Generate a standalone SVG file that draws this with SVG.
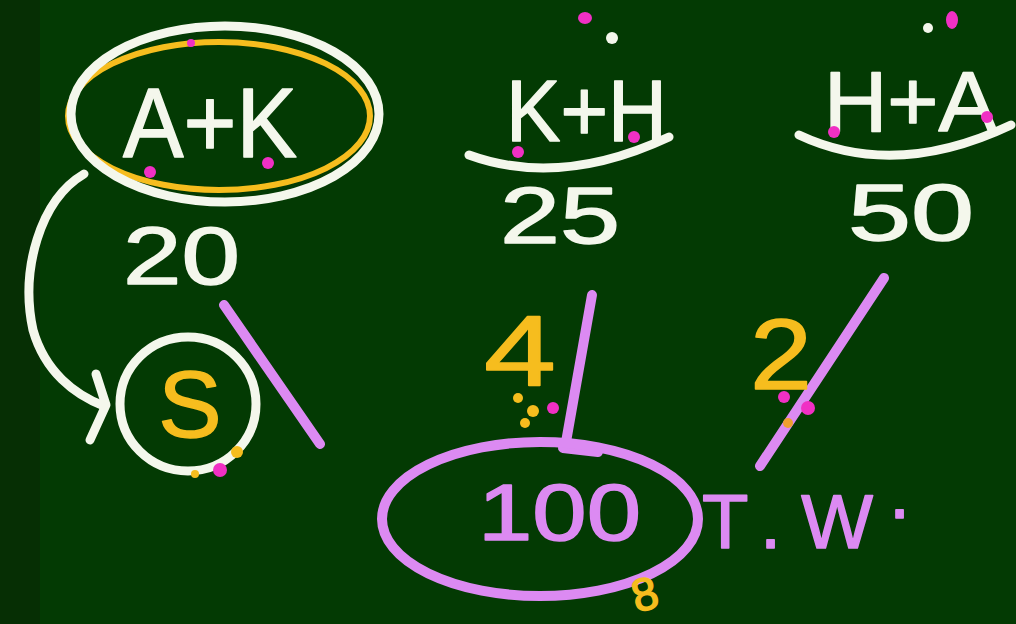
<svg xmlns="http://www.w3.org/2000/svg" width="1016" height="624" viewBox="0 0 1016 624">
<defs>
<style>
.t{font-family:"Liberation Sans",Arial,sans-serif;stroke-linejoin:round;stroke-width:1.5}
.wt{fill:#f4f7ec;stroke:#f4f7ec}
.yt{fill:#f6bd1e;stroke:#f6bd1e}
.pt{fill:#dc8af2;stroke:#dc8af2}
.ln{fill:none;stroke-linecap:round;stroke-linejoin:round}
.wl{stroke:#f4f7ec;stroke-width:9}
.pl{stroke:#dc8af2;stroke-width:10}
.pk{fill:#f030c4}
.yd{fill:#f6bd1e}
.wd{fill:#f4f7ec}
</style>
</defs>
<rect width="1016" height="624" fill="#033a03"/>
<rect width="40" height="624" fill="#062f04"/>

<g id="connectors">
  <path class="ln wl" d="M84,174 C40,200 20,270 33,330 C45,372 75,395 104,406"/>
  <polyline class="ln wl" points="96,374 106,405 90,440"/>
  <path class="ln pl" d="M224,305 L320,444"/>
  <path class="ln pl" d="M592,295 L566,442"/>
  <path class="ln pl" d="M563,448 L598,452" stroke-width="12"/>
  <path class="ln pl" d="M884,278 L760,466"/>
</g>

<g id="node-ak">
  <ellipse class="ln" cx="219" cy="116" rx="151" ry="74" stroke="#f6bd1e" stroke-width="6"/>
  <ellipse class="ln wl" cx="225" cy="114" rx="154" ry="88"/>
  <text class="t wt" x="123" y="157" font-size="98" textLength="174" lengthAdjust="spacingAndGlyphs">A+K</text>
  <text class="t wt" x="123" y="284" font-size="82" textLength="117" lengthAdjust="spacingAndGlyphs">20</text>
  <circle class="pk" cx="150" cy="172" r="6"/>
  <circle class="pk" cx="268" cy="163" r="6"/>
  <circle class="pk" cx="191" cy="43" r="4"/>
</g>

<g id="node-kh">
  <text class="t wt" x="506" y="141" font-size="88" textLength="161" lengthAdjust="spacingAndGlyphs">K+H</text>
  <path class="ln wl" d="M469,155 Q560,188 669,137"/>
  <text class="t wt" x="500" y="243" font-size="80" textLength="120" lengthAdjust="spacingAndGlyphs">25</text>
  <circle class="pk" cx="518" cy="152" r="6"/>
  <circle class="pk" cx="634" cy="137" r="6"/>
  <ellipse class="pk" cx="585" cy="18" rx="7" ry="6"/>
  <circle class="wd" cx="612" cy="38" r="6"/>
</g>

<g id="node-ha">
  <text class="t wt" x="824" y="131" font-size="85" textLength="173" lengthAdjust="spacingAndGlyphs">H+A</text>
  <path class="ln wl" d="M799,135 Q895,180 1011,125"/>
  <text class="t wt" x="848" y="240" font-size="80" textLength="126" lengthAdjust="spacingAndGlyphs">50</text>
  <circle class="pk" cx="834" cy="132" r="6"/>
  <circle class="pk" cx="987" cy="117" r="6"/>
  <ellipse class="pk" cx="952" cy="20" rx="6" ry="9"/>
  <circle class="wd" cx="928" cy="28" r="5"/>
</g>

<g id="node-s">
  <ellipse class="ln wl" cx="188" cy="404" rx="68" ry="67"/>
  <text class="t yt" x="190" y="437" font-size="95" text-anchor="middle">S</text>
  <circle class="yd" cx="237" cy="452" r="6"/>
  <circle class="yd" cx="195" cy="474" r="4"/>
  <circle class="pk" cx="220" cy="470" r="7"/>
</g>

<g id="node-100">
  <ellipse class="ln pl" cx="540" cy="519" rx="158" ry="77"/>
  <text class="t pt" x="478" y="540" font-size="80" textLength="163" lengthAdjust="spacingAndGlyphs">100</text>
  <text class="t pt" x="702" y="548" font-size="76" textLength="208" lengthAdjust="spacing">T.W<tspan dy="-30">.</tspan></text>
</g>

<g id="label-4">
  <text class="t yt" x="484" y="386" font-size="100" textLength="72" lengthAdjust="spacingAndGlyphs">4</text>
  <circle class="yd" cx="518" cy="398" r="5"/>
  <circle class="yd" cx="533" cy="411" r="6"/>
  <circle class="yd" cx="525" cy="423" r="5"/>
  <circle class="pk" cx="553" cy="408" r="6"/>
</g>

<g id="label-2">
  <text class="t yt" x="750" y="389" font-size="100" textLength="62" lengthAdjust="spacingAndGlyphs">2</text>
  <circle class="pk" cx="784" cy="397" r="6"/>
  <circle class="pk" cx="808" cy="408" r="7"/>
  <circle cx="788" cy="423" r="5" fill="#f0a030"/>
</g>

<g id="label-8">
  <text class="t yt" x="645" y="610" font-size="46" text-anchor="middle" transform="rotate(-15 645 595)">8</text>
</g>
</svg>
